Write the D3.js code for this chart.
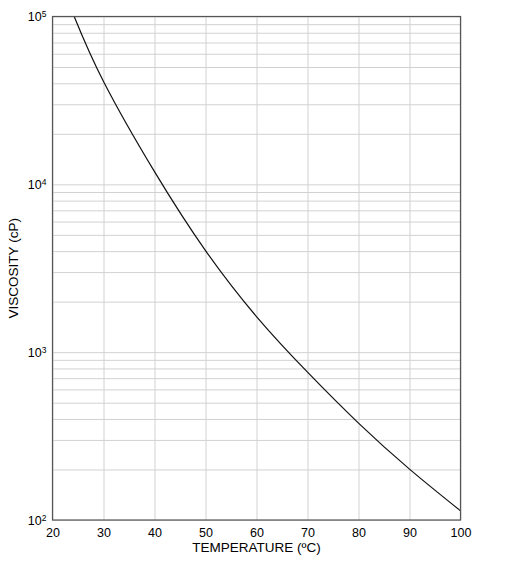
<!DOCTYPE html>
<html>
<head>
<meta charset="utf-8">
<script src="https://cdn.jsdelivr.net/npm/d3@7"></script>
<style>
    body { margin: 0; background: #fff; }
    svg text { font-family: Arial, "Liberation Sans", sans-serif; fill: #000; }
    .grid line { stroke: #d2d2d2; stroke-width: 1; }
    .grid path { display: none; }
    .axis path, .axis line { display: none; }
</style>
</head>
<body>
<script>
    var width = 509;
    var height = 562;
    var margin = {top: 16.5, right: 48.5, bottom: 42, left: 52.5};

    // temperature (C) and viscosity (cP)
    var temperature = [24.25, 30, 40, 50, 60, 70, 80, 90, 100];
    var viscosity = [100000, 41000, 11900, 4030, 1630, 760, 378, 201, 113.5];

    var x_ticks = [20, 30, 40, 50, 60, 70, 80, 90, 100];
    var y_decades = [100, 1000, 10000, 100000];
    var y_exponents = ['2', '3', '4', '5'];

    var svg = d3.select('body')
        .append('svg')
        .attr('width', width)
        .attr('height', height);

    var x_scale = d3.scaleLinear()
        .domain([20, 100])
        .range([margin.left, width - margin.right]);
    var y_scale = d3.scaleLog()
        .domain([100, 100000])
        .range([height - margin.bottom, margin.top]);

    var plot_h = height - margin.bottom - margin.top;
    var plot_w = width - margin.right - margin.left;

    // minor + major horizontal grid (2..9 in each decade)
    var y_grid = [];
    y_decades.slice(0, 3).forEach(function (d) {
        for (var k = 1; k < 10; k++) y_grid.push(d * k);
    });
    y_grid.push(100000);

    svg.append('g')
        .attr('class', 'grid')
        .attr('transform', 'translate(' + margin.left + ',0)')
        .call(d3.axisLeft(y_scale).tickValues(y_grid).tickSize(-plot_w).tickFormat(''));

    svg.append('g')
        .attr('class', 'grid')
        .attr('transform', 'translate(0,' + (height - margin.bottom) + ')')
        .call(d3.axisBottom(x_scale).tickValues(x_ticks).tickSize(-plot_h).tickFormat(''));

    // curve
    var line = d3.line()
        .x(function (d, i) { return x_scale(temperature[i]); })
        .y(function (d) { return y_scale(d); })
        .curve(d3.curveNatural);

    svg.append('path')
        .datum(viscosity)
        .attr('d', line)
        .attr('fill', 'none')
        .attr('stroke', '#111')
        .attr('stroke-width', 1.2);

    // frame
    svg.append('rect')
        .attr('x', margin.left)
        .attr('y', margin.top)
        .attr('width', plot_w)
        .attr('height', plot_h)
        .attr('fill', 'none')
        .attr('stroke', '#555')
        .attr('stroke-width', 1.2);

    // x tick labels
    var x_axis = svg.append('g')
        .attr('class', 'axis')
        .attr('transform', 'translate(0,' + (height - margin.bottom) + ')')
        .call(d3.axisBottom(x_scale).tickValues(x_ticks).tickSize(0).tickPadding(8));
    x_axis.selectAll('text').style('font-size', '12.5px').attr('fill', '#000');

    // y tick labels as powers of ten
    var y_axis = svg.append('g')
        .attr('class', 'axis')
        .attr('transform', 'translate(' + margin.left + ',0)')
        .call(d3.axisLeft(y_scale).tickValues(y_decades).tickSize(0).tickPadding(6).tickFormat(''));
    y_axis.selectAll('.tick text')
        .style('font-size', '12.5px')
        .attr('fill', '#000')
        .each(function (d, i) {
            var t = d3.select(this);
            t.append('tspan').text('10');
            t.append('tspan')
                .text(y_exponents[i])
                .attr('dy', '-0.45em')
                .style('font-size', '8.5px');
        });

    // axis titles
    svg.append('text')
        .text('TEMPERATURE (ºC)')
        .attr('x', margin.left + plot_w / 2)
        .attr('y', 552)
        .attr('text-anchor', 'middle')
        .style('font-size', '13.5px');

    svg.append('text')
        .text('VISCOSITY (cP)')
        .attr('text-anchor', 'middle')
        .attr('transform', 'translate(18,' + (margin.top + plot_h / 2) + ') rotate(-90)')
        .style('font-size', '13.5px');
</script>
</body>
</html>
